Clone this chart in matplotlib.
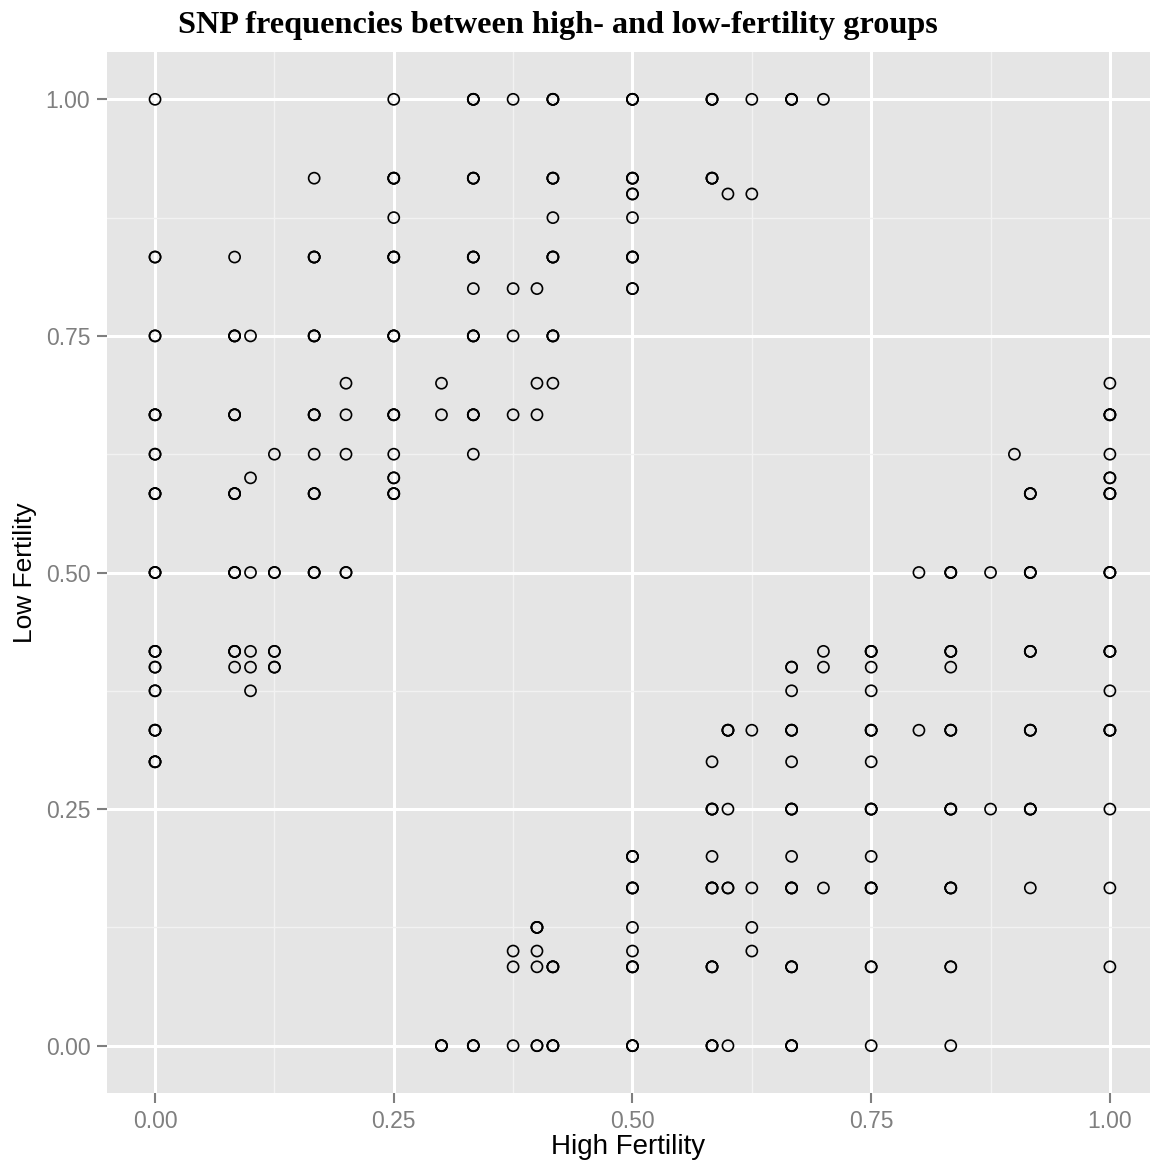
import numpy as np
import matplotlib.pyplot as plt

plt.rcParams['font.family'] = ['Liberation Sans', 'DejaVu Sans']

# SNP allele frequencies: high-fertility group (x), low-fertility group (y)
# overlap = how many SNPs sit on the same spot (draws darker rings)
high = ([0] * 12 + [1/12] * 7 + [0.1] * 6 + [0.125] * 4 + [1/6] * 7 + [0.2] * 4
        + [0.25] * 9 + [0.3] * 3 + [1/3] * 8 + [0.375] * 7 + [0.4] * 7 + [5/12] * 8
        + [0.5] * 12 + [7/12] * 8 + [0.6] * 5 + [0.625] * 6 + [2/3] * 10 + [0.7] * 4
        + [0.75] * 10 + [0.8] * 2 + [5/6] * 8 + [0.875] * 2 + [0.9] * 1 + [11/12] * 6
        + [1] * 12)
low = [1, 5/6, 0.75, 2/3, 0.625, 7/12, 0.5, 5/12, 0.4, 0.375, 1/3, 0.3,
       5/6, 0.75, 2/3, 7/12, 0.5, 5/12, 0.4,
       0.75, 0.6, 0.5, 5/12, 0.4, 0.375,
       0.625, 0.5, 5/12, 0.4,
       11/12, 5/6, 0.75, 2/3, 0.625, 7/12, 0.5,
       0.7, 2/3, 0.625, 0.5,
       1, 11/12, 0.875, 5/6, 0.75, 2/3, 0.625, 0.6, 7/12,
       0.7, 2/3, 0,
       1, 11/12, 5/6, 0.8, 0.75, 2/3, 0.625, 0,
       1, 0.8, 0.75, 2/3, 0.1, 1/12, 0,
       0.8, 0.7, 2/3, 0.125, 0.1, 1/12, 0,
       1, 11/12, 0.875, 5/6, 0.75, 0.7, 1/12, 0,
       1, 11/12, 0.9, 0.875, 5/6, 0.8, 0.2, 1/6, 0.125, 0.1, 1/12, 0,
       1, 11/12, 0.3, 0.25, 0.2, 1/6, 1/12, 0,
       0.9, 1/3, 0.25, 1/6, 0,
       1, 0.9, 1/3, 1/6, 0.125, 0.1,
       1, 0.4, 0.375, 1/3, 0.3, 0.25, 0.2, 1/6, 1/12, 0,
       1, 5/12, 0.4, 1/6,
       5/12, 0.4, 0.375, 1/3, 0.3, 0.25, 0.2, 1/6, 1/12, 0,
       0.5, 1/3,
       0.5, 5/12, 0.4, 1/3, 0.25, 1/6, 1/12, 0,
       0.5, 0.25,
       0.625,
       7/12, 0.5, 5/12, 1/3, 0.25, 1/6,
       0.7, 2/3, 0.625, 0.6, 7/12, 0.5, 5/12, 0.375, 1/3, 0.25, 1/6, 1/12]
overlap = [1, 2, 2, 3, 2, 3, 3, 3, 2, 2, 3, 3,
           1, 3, 3, 3, 3, 3, 1,
           1, 1, 1, 1, 1, 1,
           1, 2, 2, 2,
           1, 3, 3, 3, 1, 3, 3,
           1, 1, 1, 2,
           1, 3, 1, 3, 3, 3, 1, 2, 3,
           1, 1, 3,
           3, 3, 3, 1, 3, 3, 1, 3,
           1, 1, 1, 1, 1, 1, 1,
           1, 1, 1, 3, 1, 1, 2,
           3, 3, 1, 3, 3, 1, 3, 3,
           3, 3, 2, 1, 3, 2, 3, 3, 1, 1, 3, 3,
           3, 3, 1, 3, 1, 3, 3, 3,
           1, 3, 1, 2, 1,
           1, 1, 1, 1, 1, 1,
           3, 2, 1, 3, 1, 3, 1, 3, 3, 3,
           1, 1, 1, 1,
           3, 1, 1, 3, 1, 3, 1, 3, 2, 1,
           1, 1,
           3, 3, 1, 3, 3, 3, 2, 1,
           1, 1,
           1,
           3, 3, 3, 3, 3, 1,
           1, 3, 1, 2, 3, 3, 3, 1, 3, 1, 1, 1]

ticks = [0, 0.25, 0.5, 0.75, 1]
tick_labels = ['0.00', '0.25', '0.50', '0.75', '1.00']

x = np.repeat(high, overlap)
y = np.repeat(low, overlap)

W, H = 1150, 1164
fig = plt.figure(figsize=(W / 100, H / 100), dpi=100)
ax = fig.add_axes([107 / W, 1 - 1093 / H, (1150 - 107) / W, (1093 - 52) / H])
ax.set_facecolor('#E5E5E5')
for s in ax.spines.values():
    s.set_visible(False)

ax.set_xlim(-0.0503, 1.042)
ax.set_ylim(-0.05, 1.05)
ax.set_xticks(ticks)
ax.set_xticklabels(tick_labels)
ax.set_yticks(ticks)
ax.set_yticklabels(tick_labels)
ax.set_xticks([0.125, 0.375, 0.625, 0.875], minor=True)
ax.set_yticks([0.125, 0.375, 0.625, 0.875], minor=True)
ax.grid(True, which='major', color='white', linewidth=2.2)
ax.grid(True, which='minor', color='#F2F2F2', linewidth=1.0)
ax.set_axisbelow(True)
ax.tick_params(which='major', length=7, width=1.5, color='#7F7F7F',
               labelcolor='#7F7F7F', labelsize=16.5, pad=5)
ax.tick_params(which='minor', length=0)

ax.scatter(x, y, s=64, facecolors='none', edgecolors='black', linewidths=1.2)

ax.set_xlabel('High Fertility', fontsize=20, labelpad=1)
ax.set_ylabel('Low Fertility', fontsize=19, labelpad=6)
fig.text(178 / W, 1 - 26 / H, 'SNP frequencies between high- and low-fertility groups',
         family='Liberation Serif', weight='bold', fontsize=23.2, ha='left', va='center')

fig.savefig('out.png', dpi=100)
